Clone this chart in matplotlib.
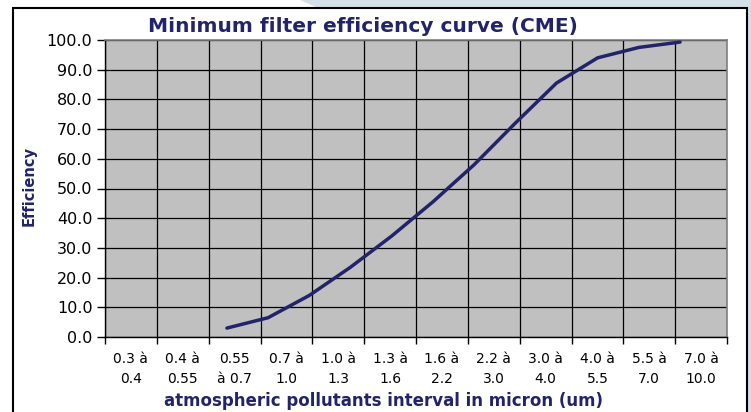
import numpy as np
import matplotlib.pyplot as plt
from matplotlib.patches import Polygon, Rectangle

# categories on the x axis (particle size intervals)
categories = ['0.3 à\n0.4', '0.4 à\n0.55', '0.55\nà 0.7', '0.7 à\n1.0', '1.0 à\n1.3',
              '1.3 à\n1.6', '1.6 à\n2.2', '2.2 à\n3.0', '3.0 à\n4.0', '4.0 à\n5.5',
              '5.5 à\n7.0', '7.0 à\n10.0']
# efficiency curve
efficiency = [3.0, 6.5, 14.0, 23.5, 34.0, 45.5, 58.0, 72.0, 85.5, 94.0, 97.5, 99.3]
y_ticks = np.arange(0, 101, 10)

navy = '#23236b'
plt.rcParams['font.family'] = ['DejaVu Sans']

fig = plt.figure(figsize=(7.51, 4.12), dpi=100)

# slide background around the chart frame
fig.patches.append(Polygon([[300 / 751, 1.0], [1.0, 1.0], [1.0, 0.0], [747 / 751, 0.0], [747 / 751, 1 - 8 / 412],
                            [318 / 751, 1 - 8 / 412]],
                           closed=True, transform=fig.transFigure, facecolor='#d3e0e8', edgecolor='none'))
fig.patches.append(Rectangle((13 / 751, -0.05), (747 - 13) / 751, 1.05 - 8 / 412, transform=fig.transFigure,
                             facecolor='none', edgecolor='black', linewidth=1.5))

ax = fig.add_axes([105 / 751, 1 - 337 / 412, 622 / 751, 297 / 412])
ax.set_facecolor('#c0c0c0')
n = len(categories)
ax.set_xlim(-0.5, n - 0.5)
ax.set_ylim(0, 100)

ax.set_xticks(np.arange(n))
ax.set_xticklabels(categories, fontsize=10, linespacing=1.55)
ax.set_xticks(np.arange(n + 1) - 0.5, minor=True)
ax.tick_params(axis='x', which='major', length=0, pad=11)
ax.tick_params(axis='x', which='minor', length=5, direction='out', width=1)
ax.set_yticks(y_ticks)
ax.set_yticklabels([f'{v:.1f}' for v in y_ticks], fontsize=11.5)
ax.tick_params(axis='y', length=6, width=1, pad=3)

ax.grid(True, which='minor', axis='x', color='black', linewidth=0.9)
ax.grid(True, which='major', axis='y', color='black', linewidth=0.9)
ax.set_axisbelow(True)
for side in ['top', 'right']:
    ax.spines[side].set_color('#808080')
    ax.spines[side].set_linewidth(1.2)
for side in ['left', 'bottom']:
    ax.spines[side].set_color('black')
    ax.spines[side].set_linewidth(1.0)

# the curve is placed on its own evenly spaced scale over the same area
ax2 = ax.twiny()
ax2.set_xlim(-2.96, 12.14)
ax2.set_ylim(0, 100)
ax2.axis('off')
ax2.plot(np.arange(n), efficiency, color=navy, linewidth=2.5, solid_capstyle='round')

fig.text(363 / 751, 1 - 27 / 412, 'Minimum filter efficiency curve (CME)', ha='center', va='center',
         fontsize=14.5, fontweight='bold', color=navy)
fig.text(383 / 751, 1 - 401 / 412, 'atmospheric pollutants interval in micron (um)', ha='center', va='center',
         fontsize=12, fontweight='bold', color=navy)
fig.text(29 / 751, 1 - 186 / 412, 'Efficiency', ha='center', va='center', rotation=90,
         fontsize=10.5, fontweight='bold', color=navy)

fig.savefig('out.png', dpi=100)
